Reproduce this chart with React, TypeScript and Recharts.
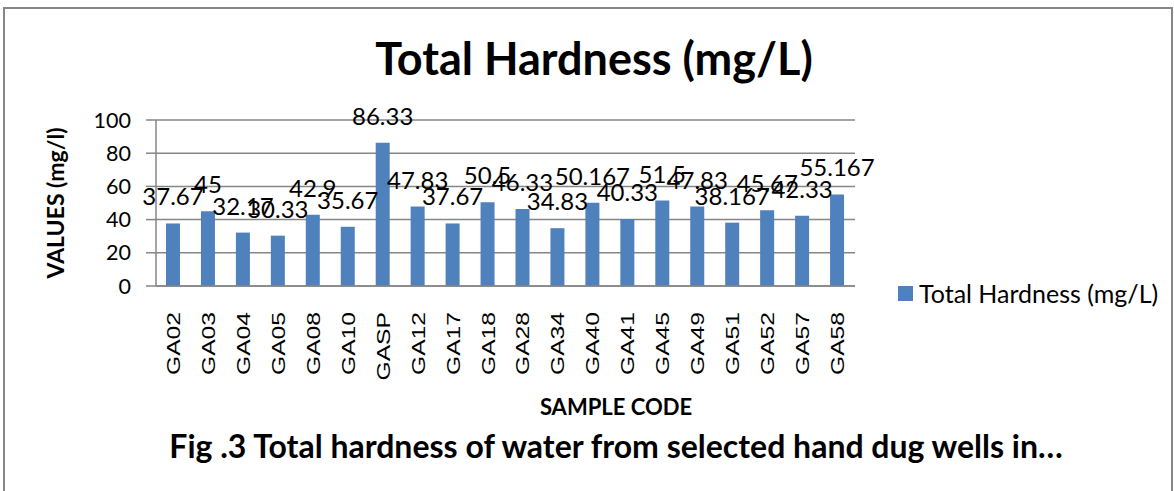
import React from "react";
import { Bar, BarChart, CartesianGrid, LabelList, XAxis, YAxis } from "recharts";

const sampleCodes = [
  "GA02", "GA03", "GA04", "GA05", "GA08", "GA10", "GASP", "GA12", "GA17", "GA18",
  "GA28", "GA34", "GA40", "GA41", "GA45", "GA49", "GA51", "GA52", "GA57", "GA58",
];
const hardness = [
  37.67, 45, 32.17, 30.33, 42.9, 35.67, 86.33, 47.83, 37.67, 50.5,
  46.33, 34.83, 50.167, 40.33, 51.5, 47.83, 38.167, 45.67, 42.33, 55.167,
];
const yTicks = [0, 20, 40, 60, 80, 100];

const data = sampleCodes.map((code, i) => ({ code, value: hardness[i] }));

const FONT = "Lato, 'Open Sans', sans-serif";
const BLUE = "#4F81BD";
const GRID = "#868686";

// sample codes in the reference are drawn stretched along their baseline
function CodeTick(props: any) {
  const { x, y, payload } = props;
  return (
    <g transform={`translate(${x},${y + 19})`}>
      <text
        transform="rotate(-90) scale(1.37,1)"
        textAnchor="end"
        dy={6.5}
        fontSize={18}
        fontFamily="'Liberation Sans', Arial, sans-serif"
        fill="#000"
      >
        {payload.value}
      </text>
    </g>
  );
}

export default function App() {
  return (
    <div
      style={{
        position: "absolute",
        left: 0,
        top: 0,
        width: 1174,
        height: 491,
        background: "#fff",
        overflow: "hidden",
        fontFamily: FONT,
      }}
    >
      <div
        style={{
          position: "absolute",
          left: 3,
          top: 7,
          width: 1166,
          height: 500,
          border: "2px solid #878787",
        }}
      />
      <div
        style={{
          position: "absolute",
          left: 0,
          width: 1188,
          top: 31,
          textAlign: "center",
          fontSize: 45,
          fontWeight: 700,
          color: "#000",
        }}
      >
        Total Hardness (mg/L)
      </div>
      <BarChart
        width={1174}
        height={491}
        data={data}
        margin={{ top: 120, right: 319, left: 96, bottom: 115 }}
        style={{ position: "absolute", left: 0, top: 0 }}
      >
        <CartesianGrid vertical={false} stroke={GRID} strokeWidth={1.5} />
        <YAxis
          domain={[0, 100]}
          ticks={yTicks}
          width={60}
          tickSize={10}
          tickMargin={15}
          axisLine={{ stroke: GRID, strokeWidth: 1.5 }}
          tickLine={{ stroke: GRID, strokeWidth: 1.5 }}
          tick={{ fontSize: 21.5, fill: "#000", fontFamily: FONT }}
          label={{
            value: "VALUES (mg/l)",
            angle: -90,
            position: "insideLeft",
            offset: -40,
            style: { fontSize: 23, fontWeight: 700, fill: "#000", fontFamily: FONT, textAnchor: "middle" },
          }}
        />
        <XAxis
          dataKey="code"
          interval={0}
          height={90}
          tickSize={5}
          axisLine={{ stroke: GRID, strokeWidth: 1.5 }}
          tickLine={false}
          tick={<CodeTick />}
        />
        <Bar dataKey="value" fill={BLUE} barSize={14} isAnimationActive={false}>
          <LabelList
            dataKey="value"
            position="top"
            offset={18}
            formatter={(v: number) => String(v)}
            style={{ fontSize: 24, fill: "#000", fontFamily: FONT }}
          />
        </Bar>
      </BarChart>
      <div
        style={{
          position: "absolute",
          left: 898,
          top: 278,
          display: "flex",
          alignItems: "center",
          fontSize: 25,
          color: "#000",
          whiteSpace: "nowrap",
        }}
      >
        <span style={{ display: "inline-block", width: 15, height: 15, background: BLUE, marginRight: 6 }} />
        Total Hardness (mg/L)
      </div>
      <div
        style={{
          position: "absolute",
          left: 0,
          width: 1232,
          top: 393,
          textAlign: "center",
          fontSize: 22,
          fontWeight: 700,
          color: "#000",
        }}
      >
        SAMPLE CODE
      </div>
      <div
        style={{
          position: "absolute",
          left: 0,
          width: 1232,
          top: 426,
          textAlign: "center",
          fontSize: 32,
          fontWeight: 700,
          color: "#000",
          whiteSpace: "nowrap",
        }}
      >
        Fig .3 Total hardness of water from selected hand dug wells in…
      </div>
    </div>
  );
}
